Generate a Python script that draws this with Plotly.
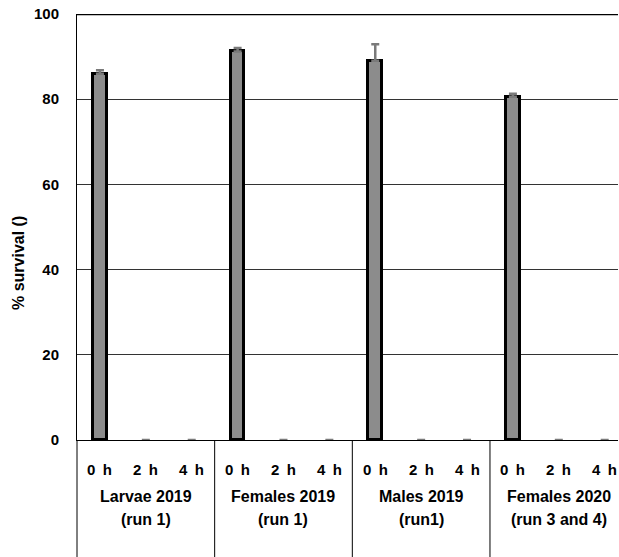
import plotly.graph_objects as go

# Survival at 0, 2 and 4 h for each group / run
groups = ["Larvae 2019", "Females 2019", "Males 2019", "Females 2020"]
runs = ["(run 1)", "(run 1)", "(run1)", "(run 3 and 4)"]
hours = ["0 h", "2 h", "4 h"]

survival_larvae_2019 = [86.0, 0, 0]
survival_females_2019 = [91.2, 0, 0]
survival_males_2019 = [89.0, 0, 0]
survival_females_2020 = [80.6, 0, 0]

err_larvae_2019 = [0.8, 0, 0]
err_females_2019 = [0.8, 0, 0]
err_males_2019 = [3.9, 0, 0]
err_females_2020 = [0.7, 0, 0]

y_ticks = [0, 20, 40, 60, 80, 100]

values = survival_larvae_2019 + survival_females_2019 + survival_males_2019 + survival_females_2020
errors = err_larvae_2019 + err_females_2019 + err_males_2019 + err_females_2020
n = len(values)
xs = list(range(n))
hour_labels = hours * len(groups)

FONT = "Arial, Liberation Sans, sans-serif"
X_RANGE = [-0.5, 11.29]

# zero-height bars get no outline; only the grey error cap remains visible
outline_widths = [3 if v > 0 else 0 for v in values]

fig = go.Figure()
fig.add_trace(go.Bar(
    x=xs, y=values, width=0.3,
    marker=dict(color="#8c8c8c", line=dict(color="black", width=outline_widths)),
    error_y=dict(type="data", symmetric=False, array=errors,
                 arrayminus=[0] * n, color="#7a7a7a", thickness=2.5, width=4),
    showlegend=False,
))

def to_paper(xv):
    return (xv - X_RANGE[0]) / (X_RANGE[1] - X_RANGE[0])

plot_h = 426.0
bottom_paper = -117.0 / plot_h

shapes = []
# group dividers below the category axis
for g in range(len(groups)):
    xp = to_paper(g * 3 - 0.5)
    shapes.append(dict(type="line", xref="paper", yref="paper", x0=xp, x1=xp,
                       y0=0, y1=bottom_paper, line=dict(color="black", width=1)))
# heavy top border at 100
shapes.append(dict(type="line", xref="paper", yref="y", x0=0, x1=1, y0=100, y1=100,
                   line=dict(color="black", width=2.5)))

def bold_font(size):
    return dict(family=FONT, size=size, color="black", weight=700)

annotations = []
for i, h in enumerate(hour_labels):
    annotations.append(dict(x=i, y=0, xref="x", yref="paper", yshift=-29,
                            text="<b>" + h.replace(" ", "\u2002") + "</b>",
                            showarrow=False, yanchor="middle", font=bold_font(15)))
for g, (name, run) in enumerate(zip(groups, runs)):
    annotations.append(dict(x=g * 3 + 1, y=0, xref="x", yref="paper", yshift=-56,
                            text="<b>" + name + "</b>", showarrow=False, yanchor="middle",
                            font=bold_font(16)))
    annotations.append(dict(x=g * 3 + 1, y=0, xref="x", yref="paper", yshift=-79,
                            text="<b>" + run + "</b>", showarrow=False, yanchor="middle",
                            font=bold_font(16)))
annotations.append(dict(x=0, y=(440 - 263) / plot_h, xref="paper", yref="paper",
                        xshift=-59, text="<b>% survival ()</b>", textangle=-90,
                        showarrow=False, xanchor="center", yanchor="middle",
                        font=bold_font(16)))

fig.update_layout(
    width=619, height=557,
    margin=dict(l=77, r=1, t=14, b=117),
    plot_bgcolor="white", paper_bgcolor="white",
    bargap=0,
    shapes=shapes, annotations=annotations,
    xaxis=dict(range=X_RANGE, showticklabels=False, ticks="", showgrid=False,
               zeroline=False, showline=True, linecolor="black", linewidth=1),
    yaxis=dict(range=[0, 100], tickvals=y_ticks, ticktext=["<b>%d</b>" % v for v in y_ticks],
               showgrid=True, gridcolor="#333333", gridwidth=1, zeroline=False,
               showline=True, linecolor="black", linewidth=1, ticks="",
               ticklabelstandoff=14, tickfont=bold_font(15)),
)

fig.write_html("out.html")
